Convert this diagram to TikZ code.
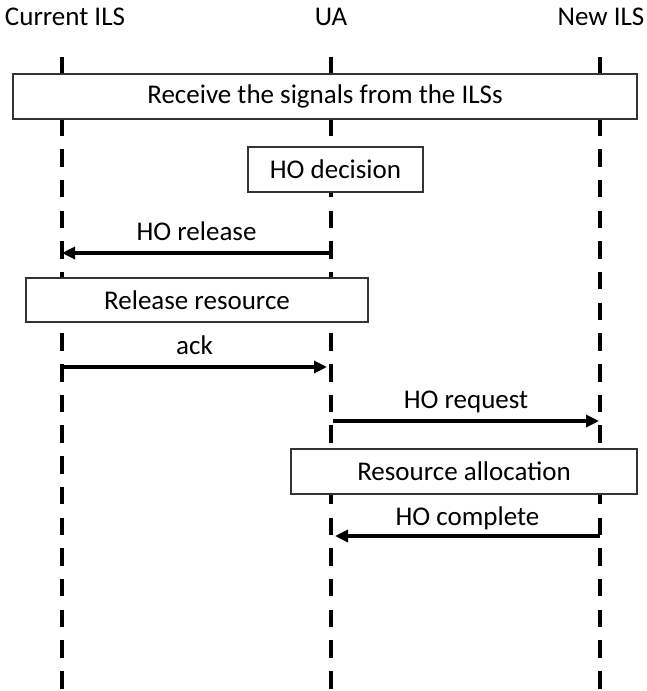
\documentclass[tikz,border=0pt]{standalone}
\usepackage{fontspec}
\setmainfont{Carlito}
\usetikzlibrary{arrows.meta}

\begin{document}
\begin{tikzpicture}[x=1pt, y=-1pt, font=\fontsize{27}{32}\selectfont]
			\tikzstyle{lifeline} = [
				draw = black, line width = 4pt,
				dash pattern = on 17.5pt off 13.2pt
			]
			\tikzstyle{stepbox} = [
				draw = black!80, fill = white, line width = 1.2pt,
				inner sep = 0pt
			]
			\tikzstyle{msg}=[draw=black,line width=4pt,-{Triangle[length=13pt,width=12pt]}]
			\tikzstyle{msglabel}=[anchor=base,yshift=12.5pt,inner sep=0pt]
			\useasboundingbox (0,0) rectangle (646,691);
			% entities
			\node (cur) at (65,17) {Current ILS};
			\node (ua) at (331,17) {UA};
			\node (new) at (601,17) {New ILS};
			\coordinate (cur top) at (62,57);
			\coordinate (cur end) at (62,700);
			\coordinate (ua top) at (331,57);
			\coordinate (ua end) at (331,700);
			\coordinate (new top) at (600,57);
			\coordinate (new end) at (600,700);
			\draw (cur top) to (cur end) [lifeline];
			\draw (ua top) to (ua end) [lifeline];
			\draw (new top) to (new end) [lifeline];
			% boxes
			\node[stepbox, minimum width = 624pt, minimum height = 45pt] (recv) at (325,96.5) {Receive the signals from the ILSs};
			\node[stepbox, minimum width = 175pt, minimum height = 45pt] (dec) at (335.5,169.5) {HO decision};
			\node[stepbox, minimum width = 342pt, minimum height = 44pt] (relres) at (197,300) {Release resource};
			\node[stepbox, minimum width = 346pt, minimum height = 45pt] (alloc) at (464,471.5) {Resource allocation};
			% messages
			\coordinate (rel ua) at (331,253);
			\coordinate (rel cur) at (62,253);
			\coordinate (ack cur) at (62,367);
			\coordinate (ack ua) at (327,367);
			\coordinate (req ua) at (333,421);
			\coordinate (req new) at (599,421);
			\coordinate (cpl new) at (600,536);
			\coordinate (cpl ua) at (335,536);
			\draw (rel ua) to node[midway, msglabel] {HO release} (rel cur) [msg];
			\draw (ack cur) to node[midway, msglabel] {ack} (ack ua) [msg];
			\draw (req ua) to node[midway, msglabel] {HO request} (req new) [msg];
			\draw (cpl new) to node[midway, msglabel, yshift=-1.5pt] {HO complete} (cpl ua) [msg];
		\end{tikzpicture}
\end{document}
